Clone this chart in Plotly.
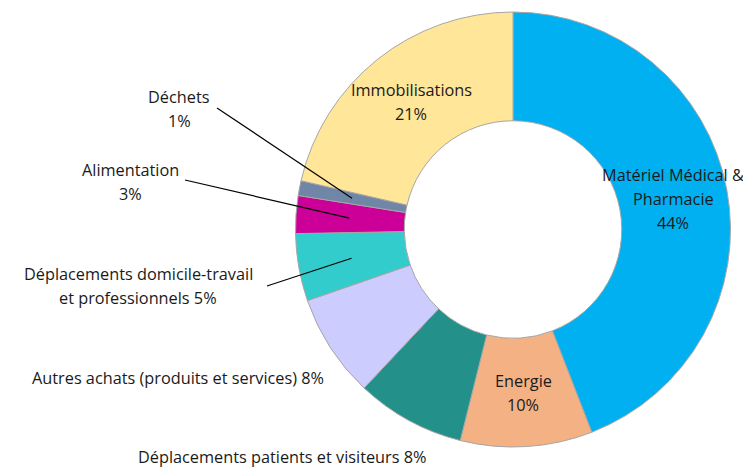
import math
import plotly.graph_objects as go

# ---- data ----
categories = ["Matériel Médical & Pharmacie", "Energie", "Déplacements patients et visiteurs",
              "Autres achats (produits et services)", "Déplacements domicile-travail et professionnels",
              "Alimentation", "Déchets", "Immobilisations"]
values = [44.1, 9.8, 8.1, 7.7, 5.0, 2.8, 1.1, 21.4]
colors = ["#00B0F0", "#F4B183", "#23918A", "#CCCCFF", "#33CCCC", "#CC0099", "#7086A6", "#FFE699"]

# label lines (text before percent), percent appended from values
label_lines = [
    ["Matériel Médical &", "Pharmacie", "{p}"],
    ["Energie", "{p}"],
    ["Déplacements patients et visiteurs {p}"],
    ["Autres achats (produits et services) {p}"],
    ["Déplacements domicile-travail", "et professionnels {p}"],
    ["Alimentation", "{p}"],
    ["Déchets", "{p}"],
    ["Immobilisations", "{p}"],
]
# label block centres in page pixels
label_pos = [(673, 199), (523, 393), (282, 457), (178, 378), (138, 286), (130, 182), (179, 109), (411, 102)]
# leader line starts (page pixels) for outside labels, None if no line
leader_start = [None, None, None, None, (267, 286), (185, 180), (217, 108), None]

W, H = 751, 468
OFF = 8  # page body margin
CX, CY, R = 513 - OFF, 229.5 - OFF, 217.5
LINE_H = 24
FONT = dict(family="Open Sans", size=16.3, color="#1a1a1a")

fig = go.Figure(go.Pie(
    labels=categories, values=values, sort=False, direction="clockwise", rotation=0,
    hole=0.5, marker=dict(colors=colors, line=dict(color="#A6A6A6", width=1)),
    textinfo="none", hoverinfo="label+percent", showlegend=False,
    domain=dict(x=[(CX - R) / W, (CX + R) / W], y=[(H - CY - R) / H, (H - CY + R) / H]),
))

total = sum(values)
annotations = []
shapes = []
cum = 0.0
for i, v in enumerate(values):
    pct = f"{round(v / total * 100)}%"
    lines = [ln.format(p=pct) for ln in label_lines[i]]
    bx, by = label_pos[i][0] - OFF, label_pos[i][1] - OFF
    n = len(lines)
    for k, ln in enumerate(lines):
        py = by + (k - (n - 1) / 2) * LINE_H
        annotations.append(dict(x=bx / W, y=1 - py / H, xref="paper", yref="paper", text=ln,
                                showarrow=False, font=FONT, xanchor="center", yanchor="middle"))
    mid = (cum + v / 2) / total * 2 * math.pi
    cum += v
    if leader_start[i] is not None:
        r = 164
        ex = CX + r * math.sin(mid)
        ey = CY - r * math.cos(mid)
        sx, sy = leader_start[i][0] - OFF, leader_start[i][1] - OFF
        shapes.append(dict(type="line", xref="paper", yref="paper", x0=sx / W, y0=1 - sy / H,
                           x1=ex / W, y1=1 - ey / H, line=dict(color="#000000", width=1.2)))

fig.update_layout(width=W, height=H, margin=dict(l=0, r=0, t=0, b=0),
                  paper_bgcolor="white", plot_bgcolor="white",
                  annotations=annotations, shapes=shapes)
fig.write_html("out.html")
